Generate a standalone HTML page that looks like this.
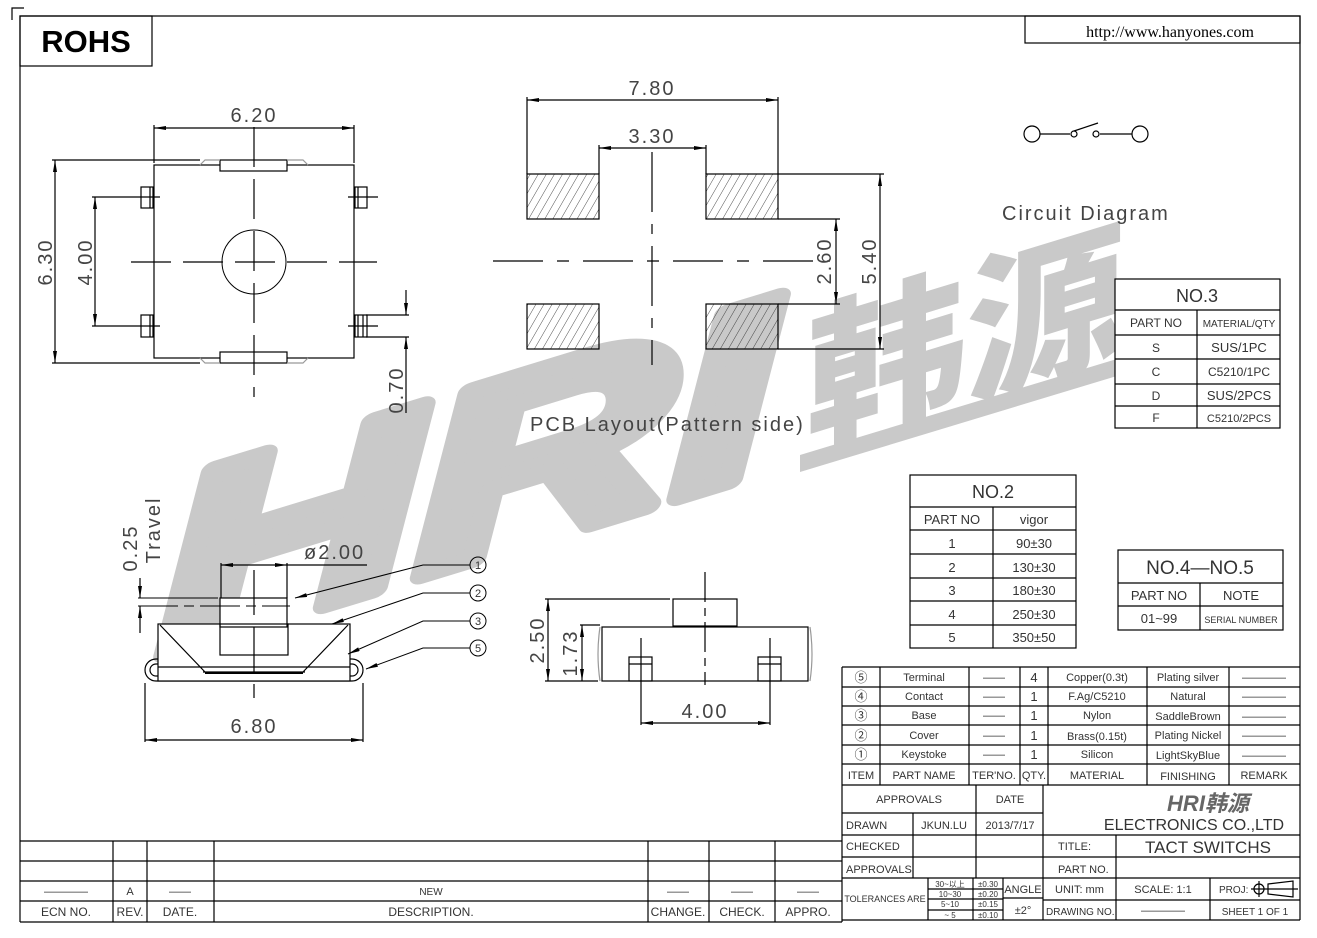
<!DOCTYPE html>
<html><head><meta charset="utf-8"><style>
html,body{margin:0;padding:0;background:#fff;}
svg{display:block;font-family:"Liberation Sans","Noto Sans CJK SC",sans-serif;}
.l{stroke:#000;stroke-width:1.2;fill:none}
.t{fill:#333;font-size:11px}
.d{fill:#444;font-size:20px;letter-spacing:2px}
</style></head><body>
<svg width="1317" height="938" viewBox="0 0 1317 938" xmlns="http://www.w3.org/2000/svg">
<defs>
<marker id="a" viewBox="0 0 12 4" refX="12" refY="2" markerWidth="12" markerHeight="4" orient="auto-start-reverse" markerUnits="userSpaceOnUse"><path d="M0,0 L12,2 L0,4z" fill="#000"/></marker>
<pattern id="h" width="7" height="7" patternUnits="userSpaceOnUse" patternTransform="rotate(30)"><line x1="0" y1="0" x2="0" y2="7" stroke="#222" stroke-width="0.8"/></pattern>
</defs>

<!-- watermark -->
<g fill="#c9c9c9">
<text transform="translate(160,655) skewY(-17) scale(1.45,1)" font-size="245" font-weight="bold" font-style="italic" stroke="#c9c9c9" stroke-width="18" stroke-linejoin="round" font-family="Liberation Sans,sans-serif">HRI</text>
<text transform="translate(806,445) skewY(-17)" font-size="160" font-weight="900" font-family="Noto Sans CJK SC,sans-serif">韩源</text>
<polygon points="800,455 1130,355 1130,372 800,472"/>
</g>

<!-- frame -->
<path class="l" d="M12,20 V8 H24"/>
<path class="l" d="M20,922 V16 H1300 V920"/>
<rect class="l" x="20" y="16" width="132" height="50"/>
<text x="86" y="52" text-anchor="middle" font-size="31" font-weight="bold" fill="#000">ROHS</text>
<rect class="l" x="1025" y="16" width="275" height="27"/>
<text x="1170" y="37" text-anchor="middle" font-size="16" font-family="Liberation Serif,serif" fill="#000">http://www.hanyones.com</text>

<!-- top view -->
<g class="l">
<rect x="154" y="165" width="200" height="193"/>
<rect x="220" y="160" width="67" height="11" fill="#fff"/>
<rect x="220" y="352" width="67" height="11" fill="#fff"/>
<path d="M200,165 L205,160 H220 M287,160 H303 L308,165 M200,358 L205,363 H220 M287,363 H303 L308,358" stroke="#999"/>
<rect x="141" y="187" width="12" height="21"/><line x1="150" y1="187" x2="150" y2="208"/>
<rect x="141" y="315" width="12" height="22"/><line x1="150" y1="315" x2="150" y2="337"/>
<rect x="355" y="187" width="12" height="21"/><line x1="358" y1="187" x2="358" y2="208"/>
<rect x="355" y="315" width="12" height="22"/><line x1="358" y1="315" x2="358" y2="337"/><line x1="363" y1="315" x2="363" y2="337"/>
<path d="M130,197 H160 M348,197 H378 M130,326 H160 M348,326 H378"/>
<line x1="131" y1="262" x2="377" y2="262" stroke-dasharray="40,12,40,12"/>
<line x1="254" y1="127" x2="254" y2="397" stroke-dasharray="40,12"/>
<circle cx="254" cy="262" r="32" stroke-width="1"/>
<line x1="154" y1="128" x2="354" y2="128" marker-start="url(#a)" marker-end="url(#a)"/>
<path d="M154,125 V163 M354,125 V163"/>
<line x1="55" y1="160" x2="55" y2="363" marker-start="url(#a)" marker-end="url(#a)"/>
<path d="M52,160 H200 M52,363 H200"/>
<line x1="95" y1="197" x2="95" y2="326" marker-start="url(#a)" marker-end="url(#a)"/>
<path d="M92,197 H130 M92,326 H130"/>
<line x1="406" y1="290" x2="406" y2="315" marker-end="url(#a)"/>
<line x1="406" y1="413" x2="406" y2="337" marker-end="url(#a)"/>
<path d="M366,315 H409 M366,337 H409"/>
</g>
<text class="d" x="254" y="122" text-anchor="middle">6.20</text>
<text class="d" transform="translate(52,262) rotate(-90)" text-anchor="middle">6.30</text>
<text class="d" transform="translate(92,262) rotate(-90)" text-anchor="middle">4.00</text>
<text class="d" transform="translate(403,390) rotate(-90)" text-anchor="middle">0.70</text>

<!-- PCB layout -->
<g class="l">
<rect x="527" y="174" width="72" height="45" fill="url(#h)"/>
<rect x="706" y="174" width="72" height="45" fill="url(#h)"/>
<rect x="527" y="304" width="72" height="45" fill="url(#h)"/>
<rect x="706" y="304" width="72" height="45" fill="url(#h)"/>
<line x1="493" y1="261" x2="830" y2="261" stroke-dasharray="50,14,12,14"/>
<line x1="652" y1="152" x2="652" y2="365" stroke-dasharray="60,12,10,12"/>
<line x1="527" y1="100" x2="778" y2="100" marker-start="url(#a)" marker-end="url(#a)"/>
<path d="M527,97 V174 M778,97 V174 M599,145 V174 M706,145 V174"/>
<line x1="599" y1="148" x2="706" y2="148" marker-start="url(#a)" marker-end="url(#a)"/>
<line x1="836" y1="219" x2="836" y2="304" marker-start="url(#a)" marker-end="url(#a)"/>
<path d="M778,219 H840 M778,304 H840 M778,174 H884 M778,349 H884"/>
<line x1="880" y1="174" x2="880" y2="349" marker-start="url(#a)" marker-end="url(#a)"/>
</g>
<text class="d" x="652" y="95" text-anchor="middle">7.80</text>
<text class="d" x="652" y="143" text-anchor="middle">3.30</text>
<text class="d" transform="translate(831,261) rotate(-90)" text-anchor="middle">2.60</text>
<text class="d" transform="translate(876,261) rotate(-90)" text-anchor="middle">5.40</text>
<text class="d" x="530" y="431" font-size="19">PCB  Layout(Pattern  side)</text>

<!-- circuit -->
<g class="l" stroke-width="1">
<circle cx="1032" cy="134" r="8"/><circle cx="1140" cy="134" r="8"/>
<path d="M1040,134 H1070 M1100,134 H1132 M1074,131 L1098,123"/>
<circle cx="1074" cy="134" r="3"/><circle cx="1096" cy="134" r="3"/>
</g>
<text class="d" x="1002" y="220" font-size="19">Circuit  Diagram</text>

<!-- NO.3 -->
<g class="l">
<rect x="1115" y="279" width="165" height="149" fill="#fff"/>
<path d="M1115,310 H1280 M1115,335 H1280 M1115,359 H1280 M1115,384 H1280 M1115,406 H1280 M1197,310 V428"/>
</g>
<g class="t" text-anchor="middle">
<text x="1197" y="302" font-size="18">NO.3</text>
<text x="1156" y="327" font-size="12">PART  NO</text><text x="1239" y="327" font-size="10">MATERIAL/QTY</text>
<text x="1156" y="352" font-size="12">S</text><text x="1239" y="352" font-size="13">SUS/1PC</text>
<text x="1156" y="376" font-size="12">C</text><text x="1239" y="376" font-size="12">C5210/1PC</text>
<text x="1156" y="400" font-size="12">D</text><text x="1239" y="400" font-size="13">SUS/2PCS</text>
<text x="1156" y="422" font-size="12">F</text><text x="1239" y="422" font-size="11">C5210/2PCS</text>
</g>

<!-- NO.2 -->
<g class="l">
<rect x="910" y="475" width="166" height="173"/>
<path d="M910,507 H1076 M910,530 H1076 M910,554 H1076 M910,578 H1076 M910,601 H1076 M910,625 H1076 M993,507 V648"/>
</g>
<g class="t" text-anchor="middle" font-size="13">
<text x="993" y="498" font-size="18">NO.2</text>
<text x="952" y="524" font-size="13">PART  NO</text><text x="1034" y="524" font-size="13">vigor</text>
<text x="952" y="548" font-size="13">1</text><text x="1034" y="548" font-size="13">90±30</text>
<text x="952" y="572" font-size="13">2</text><text x="1034" y="572" font-size="13">130±30</text>
<text x="952" y="595" font-size="13">3</text><text x="1034" y="595" font-size="13">180±30</text>
<text x="952" y="619" font-size="13">4</text><text x="1034" y="619" font-size="13">250±30</text>
<text x="952" y="642" font-size="13">5</text><text x="1034" y="642" font-size="13">350±50</text>
</g>

<!-- NO.4-NO.5 -->
<g class="l">
<rect x="1118" y="550" width="165" height="80"/>
<path d="M1118,583 H1283 M1118,606 H1283 M1200,583 V630"/>
</g>
<g class="t" text-anchor="middle">
<text x="1200" y="574" font-size="19">NO.4—NO.5</text>
<text x="1159" y="600" font-size="13">PART  NO</text><text x="1241" y="600" font-size="13">NOTE</text>
<text x="1159" y="623" font-size="13">01~99</text><text x="1241" y="623" font-size="9">SERIAL NUMBER</text>
</g>

<!-- side view -->
<g class="l">
<rect x="145" y="659" width="218" height="22" rx="11"/>
<rect x="150" y="664" width="14" height="12" rx="6"/>
<rect x="344" y="664" width="14" height="12" rx="6"/>
<rect x="158" y="624" width="192" height="57" fill="#fff"/>
<path d="M160,625 L205,672 M348,625 L303,672 M158,667 H350 M203,672 H305" />
<line x1="205" y1="673" x2="303" y2="673" stroke-width="2"/>
<rect x="220" y="598" width="67" height="29" fill="#fff"/>
<rect x="220" y="624" width="68" height="31"/>
<line x1="138" y1="598" x2="218" y2="598" stroke-width="1"/>
<line x1="138" y1="606" x2="290" y2="606" stroke-dasharray="40,6,10,6" stroke-width="1"/>
<line x1="254" y1="570" x2="254" y2="698" stroke-dasharray="45,12"/>
<line x1="221" y1="565" x2="287" y2="565" marker-start="url(#a)" marker-end="url(#a)"/>
<path d="M287,565 H367 M221,563 V598 M287,563 V598"/>
<line x1="140" y1="578" x2="140" y2="598" marker-end="url(#a)"/>
<line x1="140" y1="633" x2="140" y2="606" marker-end="url(#a)"/>
<line x1="145" y1="740" x2="363" y2="740" marker-start="url(#a)" marker-end="url(#a)"/>
<path d="M145,683 V742 M363,683 V742"/>
<path d="M470,565 H423 L295,598" marker-end="url(#a)" stroke-width="1"/>
<path d="M470,593 H423 L332,624" marker-end="url(#a)" stroke-width="1"/>
<path d="M470,621 H423 L348,654" marker-end="url(#a)" stroke-width="1"/>
<path d="M470,648 H423 L366,669" marker-end="url(#a)" stroke-width="1"/>
<circle cx="478" cy="565" r="8" stroke-width="1"/><circle cx="478" cy="593" r="8" stroke-width="1"/>
<circle cx="478" cy="621" r="8" stroke-width="1"/><circle cx="478" cy="648" r="8" stroke-width="1"/>
</g>
<g class="t" text-anchor="middle" font-size="12"><text x="478" y="569">1</text><text x="478" y="597">2</text><text x="478" y="625">3</text><text x="478" y="652">5</text></g>
<text class="d" x="304" y="559">ø2.00</text>
<text class="d" transform="translate(137,548) rotate(-90)" text-anchor="middle">0.25</text>
<text class="d" transform="translate(160,530) rotate(-90)" text-anchor="middle" font-size="19">Travel</text>
<text class="d" x="254" y="733" text-anchor="middle">6.80</text>

<!-- front view -->
<g class="l">
<rect x="673" y="599" width="64" height="27"/>
<rect x="602" y="627" width="206" height="54"/>
<path d="M600,627 Q596,654 600,681 M810,627 Q814,654 810,681" stroke="#999"/>
<rect x="629" y="657" width="23" height="24"/><line x1="629" y1="664" x2="652" y2="664"/>
<rect x="758" y="657" width="23" height="24"/><line x1="758" y1="664" x2="781" y2="664"/>
<line x1="705" y1="572" x2="705" y2="685" stroke-dasharray="30,6,8,6"/>
<path d="M641,638 V725 M770,638 V725"/>
<line x1="641" y1="723" x2="770" y2="723" marker-start="url(#a)" marker-end="url(#a)"/>
<path d="M545,599 H670 M545,681 H598 M580,625 H600"/>
<line x1="548" y1="599" x2="548" y2="681" marker-start="url(#a)" marker-end="url(#a)"/>
<line x1="582" y1="625" x2="582" y2="681" marker-start="url(#a)" marker-end="url(#a)"/>
</g>
<text class="d" x="705" y="718" text-anchor="middle">4.00</text>
<text class="d" transform="translate(544,640) rotate(-90)" text-anchor="middle">2.50</text>
<text class="d" transform="translate(577,653) rotate(-90)" text-anchor="middle">1.73</text>

<!-- parts table -->
<g class="l">
<path d="M842,667 H1300 M842,687 H1300 M842,706 H1300 M842,725 H1300 M842,745 H1300 M842,764 H1300 M842,785 H1300 M842,667 V922"/>
<path d="M880,667 V785 M969,667 V785 M1020,667 V785 M1048,667 V785 M1147,667 V785 M1229,667 V785"/>
<path d="M842,813 H1043 M842,835 H1300 M842,857 H1300 M842,878 H1300 M842,920 H1300"/>
<path d="M976,785 V878 M913,813 V878 M1043,785 V920 M1116,835 V920 M1043,900 H1300 M1210,878 V920 M928,878 V920 M973,878 V920 M1003,878 V920 M928,889 H1003 M928,899 H1003 M928,910 H1003 M1003,898 H1043"/>
</g>
<g class="t" text-anchor="middle">
<g font-size="13"><text x="861" y="682">⑤</text><text x="861" y="701">④</text><text x="861" y="720">③</text><text x="861" y="740">②</text><text x="861" y="759">①</text></g>
<text x="924" y="681">Terminal</text><text x="924" y="700">Contact</text><text x="924" y="719">Base</text><text x="924" y="739">Cover</text><text x="924" y="758">Keystoke</text>
<g><text x="994" y="681">——</text><text x="994" y="700">——</text><text x="994" y="719">——</text><text x="994" y="739">——</text><text x="994" y="758">——</text></g>
<g font-size="13"><text x="1034" y="682">4</text><text x="1034" y="701">1</text><text x="1034" y="720">1</text><text x="1034" y="740">1</text><text x="1034" y="759">1</text></g>
<text x="1097" y="681">Copper(0.3t)</text><text x="1097" y="700">F.Ag/C5210</text><text x="1097" y="719">Nylon</text><text x="1097" y="740">Brass(0.15t)</text><text x="1097" y="758">Silicon</text>
<text x="1188" y="681">Plating  silver</text><text x="1188" y="700">Natural</text><text x="1188" y="720">SaddleBrown</text><text x="1188" y="739">Plating  Nickel</text><text x="1188" y="759">LightSkyBlue</text>
<g><text x="1264" y="681">————</text><text x="1264" y="700">————</text><text x="1264" y="720">————</text><text x="1264" y="739">————</text><text x="1264" y="759">————</text></g>
<text x="861" y="779">ITEM</text><text x="924" y="779">PART  NAME</text><text x="994" y="779">TER'NO.</text><text x="1034" y="779">QTY.</text><text x="1097" y="779">MATERIAL</text><text x="1188" y="780">FINISHING</text><text x="1264" y="779">REMARK</text>
<text x="909" y="803">APPROVALS</text><text x="1010" y="803">DATE</text>
<text x="944" y="829">JKUN.LU</text><text x="1010" y="829">2013/7/17</text>
<text x="1208" y="811" font-size="22" font-style="italic" font-weight="bold" fill="#666">HRI韩源</text>
<text x="1194" y="830" font-size="16">ELECTRONICS  CO.,LTD</text>
<text x="1208" y="853" font-size="17">TACT  SWITCHS</text>
<text x="885" y="902" font-size="9">TOLERANCES  ARE</text>
<g font-size="8"><text x="950" y="887">30~以上</text><text x="950" y="897">10~30</text><text x="950" y="907">5~10</text><text x="950" y="918">~ 5</text>
<text x="988" y="887">±0.30</text><text x="988" y="897">±0.20</text><text x="988" y="907">±0.15</text><text x="988" y="918">±0.10</text></g>
<text x="1023" y="893">ANGLE</text><text x="1023" y="914">±2°</text>
<text x="1163" y="893">SCALE:    1:1</text><text x="1163" y="914">————</text>
<text x="1255" y="915" font-size="10">SHEET   1  OF  1</text>
</g>
<g class="t">
<text x="846" y="829">DRAWN</text><text x="846" y="850">CHECKED</text><text x="846" y="873">APPROVALS</text>
<text x="1058" y="850">TITLE:</text><text x="1058" y="873">PART  NO.</text>
<text x="1055" y="893">UNIT:  mm</text><text x="1046" y="915" font-size="10">DRAWING  NO.</text>
<text x="1219" y="893" font-size="10">PROJ:</text>
</g>
<g class="l" stroke-width="1"><circle cx="1259" cy="889" r="5"/><path d="M1251,889 H1267 M1259,881 V897 M1268,884 L1293,881 V897 L1268,894 Z M1265,889 H1298"/></g>

<!-- revision table -->
<g class="l">
<path d="M20,841 H842 M20,861 H842 M20,881 H842 M20,901 H842 M20,922 H842"/>
<path d="M113,841 V922 M147,841 V922 M214,841 V922 M648,841 V922 M709,841 V922 M775,841 V922"/>
</g>
<g class="t" text-anchor="middle">
<text x="66" y="895">————</text><text x="130" y="895">A</text><text x="180" y="895">——</text><text x="431" y="895" font-size="10">NEW</text>
<text x="678" y="895">——</text><text x="742" y="895">——</text><text x="808" y="895">——</text>
<text x="66" y="916" font-size="12">ECN  NO.</text><text x="130" y="916" font-size="12">REV.</text><text x="180" y="916" font-size="12">DATE.</text><text x="431" y="916" font-size="12">DESCRIPTION.</text>
<text x="678" y="916" font-size="12">CHANGE.</text><text x="742" y="916" font-size="12">CHECK.</text><text x="808" y="916" font-size="12">APPRO.</text>
</g>
</svg>
</body></html>
